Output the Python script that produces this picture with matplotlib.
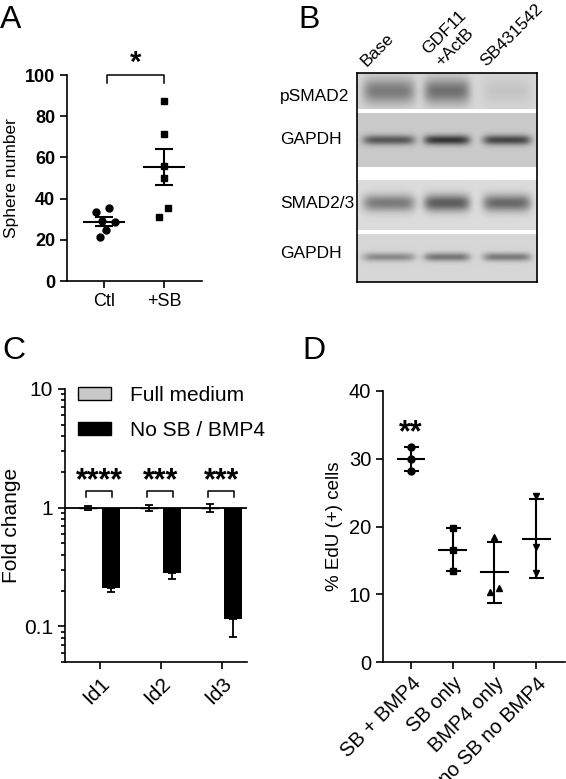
import numpy as np
import matplotlib
matplotlib.use("Agg")
import matplotlib.pyplot as plt
from matplotlib.patches import Patch
from matplotlib.ticker import LogLocator, FuncFormatter, NullFormatter

plt.rcParams['font.family'] = ['Liberation Sans', 'DejaVu Sans']

# ---- data ----
# A: sphere number
a_groups = ["Ctl", "+SB"]
a_ctl = [33.3, 35.3, 29.1, 24.8, 28.5, 21.2]
a_sb = [87.2, 71.2, 56.0, 50.2, 35.3, 31.1]
a_ctl_jit = [-0.14, 0.09, -0.04, 0.04, 0.18, -0.06]
a_sb_jit = [0.0, 0.0, 0.0, 0.0, 0.07, -0.08]

# B: western blot
blot_rows = ["pSMAD2", "GAPDH", "SMAD2/3", "GAPDH"]
blot_lanes = ["Base", "GDF11\n+ActB", "SB431542"]
blot_density = [[0.36, 0.40, 0.07],
                [0.45, 0.58, 0.52],
                [0.38, 0.50, 0.45],
                [0.30, 0.38, 0.36]]

# C: fold change
c_genes = ["Id1", "Id2", "Id3"]
c_full = [1.0, 1.0, 1.0]
c_full_lo = [0.96, 0.93, 0.92]
c_full_hi = [1.04, 1.05, 1.07]
c_nosb = [0.21, 0.28, 0.115]
c_nosb_lo = [0.194, 0.25, 0.081]
c_stars = ["****", "***", "***"]

# D: EdU
d_groups = ["SB + BMP4", "SB only", "BMP4 only", "no SB no BMP4"]
d_vals = [[31.8, 30.0, 28.2],
          [19.8, 16.5, 13.4],
          [18.4, 10.4, 10.9],
          [24.5, 17.0, 13.1]]
d_jit = [[0, 0, 0], [0, 0, 0], [0, -0.1, 0.1], [0, 0, 0]]
d_markers = ['o', 's', '^', 'v']

W, H = 566, 779
fig = plt.figure(figsize=(W / 100, H / 100), dpi=100)


def ax_px(l, t, r, b):
    return fig.add_axes([l / W, 1 - b / H, (r - l) / W, (b - t) / H])


def prism(ax, fs):
    for s in ['top', 'right']:
        ax.spines[s].set_visible(False)
    for s in ['left', 'bottom']:
        ax.spines[s].set_linewidth(1.2)
    ax.tick_params(width=1.2, length=5, labelsize=fs, color='black')


# ---- A ----
axA = ax_px(67, 75, 202, 281)
prism(axA, 13)
axA.set_xlim(-0.617, 1.633)
axA.set_ylim(0, 100)
axA.set_yticks([0, 20, 40, 60, 80, 100])
for lab in axA.get_yticklabels():
    lab.set_fontweight('bold')
axA.set_xticks([0, 1])
axA.set_xticklabels(a_groups)
axA.plot(np.array(a_ctl_jit), a_ctl, 'o', color='black', ms=5, clip_on=False)
axA.plot(1 + np.array(a_sb_jit), a_sb, 's', color='black', ms=4.6, clip_on=False)
for i, v in enumerate([a_ctl, a_sb]):
    m = np.mean(v)
    sem = np.std(v, ddof=1) / np.sqrt(len(v))
    axA.plot([i - 0.33, i + 0.33], [m, m], color='black', lw=1.5)
    axA.errorbar(i, m, yerr=sem, fmt='none', ecolor='black', elinewidth=1.5,
                 capsize=6.5, capthick=1.5)
axA.plot([0.05, 0.05, 1.0, 1.0], [96.3, 100, 100, 96.3], color='black', lw=1.1,
         clip_on=False)
axA.text(0.53, 102, "*", ha='center', va='baseline', fontsize=21, fontweight='bold')
axA.set_ylabel("Sphere number", fontsize=12.5, labelpad=4)

# ---- B ----
axB = ax_px(357, 73, 537, 282)
bh, bw = 209, 180
yy, xx = np.mgrid[0:bh, 0:bw] + 0.5
img = np.ones((bh, bw))
strips = [(0, 36, 0.84, 18, 9.0), (40, 94, 0.79, 67, 3.5),
          (107, 157, 0.86, 130, 6.0), (161, 209, 0.84, 184, 3.0)]
lane_c = [32, 90, 150]
lane_hw = [26, 23, 24]
for (y0, y1, bg, yc, sy), dens in zip(strips, blot_density):
    val = np.full((bh, bw), bg)
    for c, hw, d in zip(lane_c, lane_hw, dens):
        val -= d * np.exp(-((xx - c) / hw) ** 6) * np.exp(-0.5 * ((yy - yc) / sy) ** 2)
    mask = (yy >= y0) & (yy < y1)
    img[mask] = val[mask]
axB.imshow(img, cmap='gray', vmin=0, vmax=1, extent=(0, bw, bh, 0),
           aspect='auto', interpolation='bilinear')
axB.set_xticks([])
axB.set_yticks([])
for s in axB.spines.values():
    s.set_linewidth(1.2)
for lab, x in zip(blot_lanes, [12, 86, 131]):
    axB.text(x, -4, lab, rotation=45, rotation_mode='anchor', ha='left',
             va='bottom', fontsize=12.5, clip_on=False)
for lab, y in zip(blot_rows, [97, 140, 203, 253]):
    fig.text(280 / W, 1 - y / H, lab, ha='left', va='center', fontsize=12.5)

# ---- C ----
axC = ax_px(65, 389, 247, 662)
prism(axC, 15)
axC.set_yscale('log')
axC.set_ylim(0.05, 10)
axC.set_xlim(-0.574, 2.41)
axC.yaxis.set_major_locator(LogLocator(base=10, numticks=5))
axC.yaxis.set_major_formatter(FuncFormatter(lambda v, _: f"{v:g}"))
axC.yaxis.set_minor_locator(LogLocator(base=10, subs=np.arange(2, 10), numticks=20))
axC.yaxis.set_minor_formatter(NullFormatter())
axC.tick_params(axis='y', which='minor', width=1.2, length=3)
xs = np.arange(len(c_genes))
bw_c = 0.3
xg = xs - 0.2
xk = xs + 0.18
axC.bar(xg, np.array(c_full) - 1, bottom=1, width=bw_c, color='#c8c8c8',
        edgecolor='black', lw=1)
axC.bar(xk, np.array(c_nosb) - 1, bottom=1, width=bw_c, color='black')
axC.errorbar(xg, c_full, yerr=[np.array(c_full) - c_full_lo, np.array(c_full_hi) - c_full],
             fmt='none', ecolor='black', elinewidth=1.3, capsize=3.2, capthick=1.3)
axC.errorbar(xk, c_nosb, yerr=[np.array(c_nosb) - c_nosb_lo, np.zeros(3)],
             fmt='none', ecolor='black', elinewidth=1.3, capsize=3.2, capthick=1.3)
axC.axhline(1, color='black', lw=1.3)
for i, st in enumerate(c_stars):
    axC.plot([xg[i] - 0.03, xg[i] - 0.03, xk[i] + 0.02, xk[i] + 0.02],
             [1.22, 1.39, 1.39, 1.22], color='black', lw=1.1)
    axC.text(xs[i] - 0.01, 1.42, st, ha='center', va='baseline', fontsize=22,
             fontweight='bold')
axC.set_xticks(xs)
axC.set_xticklabels(c_genes, rotation=45, ha='right', rotation_mode='anchor')
axC.set_ylabel("Fold change", fontsize=15, labelpad=2)
axC.legend(handles=[Patch(facecolor='#c8c8c8', edgecolor='black', lw=1),
                    Patch(facecolor='black', edgecolor='black')],
           labels=["Full medium", "No SB / BMP4"], loc='upper left',
           bbox_to_anchor=(0.071, 1.011), frameon=False, fontsize=15,
           borderpad=0, borderaxespad=0, handlelength=1.6, handleheight=0.6,
           handletextpad=0.9, labelspacing=0.75)

# ---- D ----
axD = ax_px(383, 391, 565, 662)
prism(axD, 14.5)
axD.set_ylim(0, 40)
axD.set_xlim(-0.67, 3.69)
axD.set_yticks([0, 10, 20, 30, 40])
for i, (v, j, mk) in enumerate(zip(d_vals, d_jit, d_markers)):
    axD.plot(i + np.array(j), v, mk, color='black', ms=5)
    m = np.mean(v)
    sd = np.std(v, ddof=1)
    axD.plot([i - 0.32, i + 0.32], [m, m], color='black', lw=1.5)
    axD.errorbar(i, m, yerr=sd, fmt='none', ecolor='black', elinewidth=1.5,
                 capsize=5.4, capthick=1.5)
axD.text(0, 32.6, "**", ha='center', va='baseline', fontsize=22, fontweight='bold')
axD.set_xticks(np.arange(len(d_groups)))
axD.set_xticklabels(d_groups, rotation=45, ha='right', rotation_mode='anchor')
axD.set_ylabel("% EdU (+) cells", fontsize=13.5, labelpad=4)

# panel letters
for lab, x, y in [("A", 0, 5), ("B", 298, 5), ("C", 2, 336), ("D", 302, 336)]:
    fig.text(x / W, 1 - y / H, lab, ha='left', va='top', fontsize=23)

fig.savefig("out.png", dpi=100)
